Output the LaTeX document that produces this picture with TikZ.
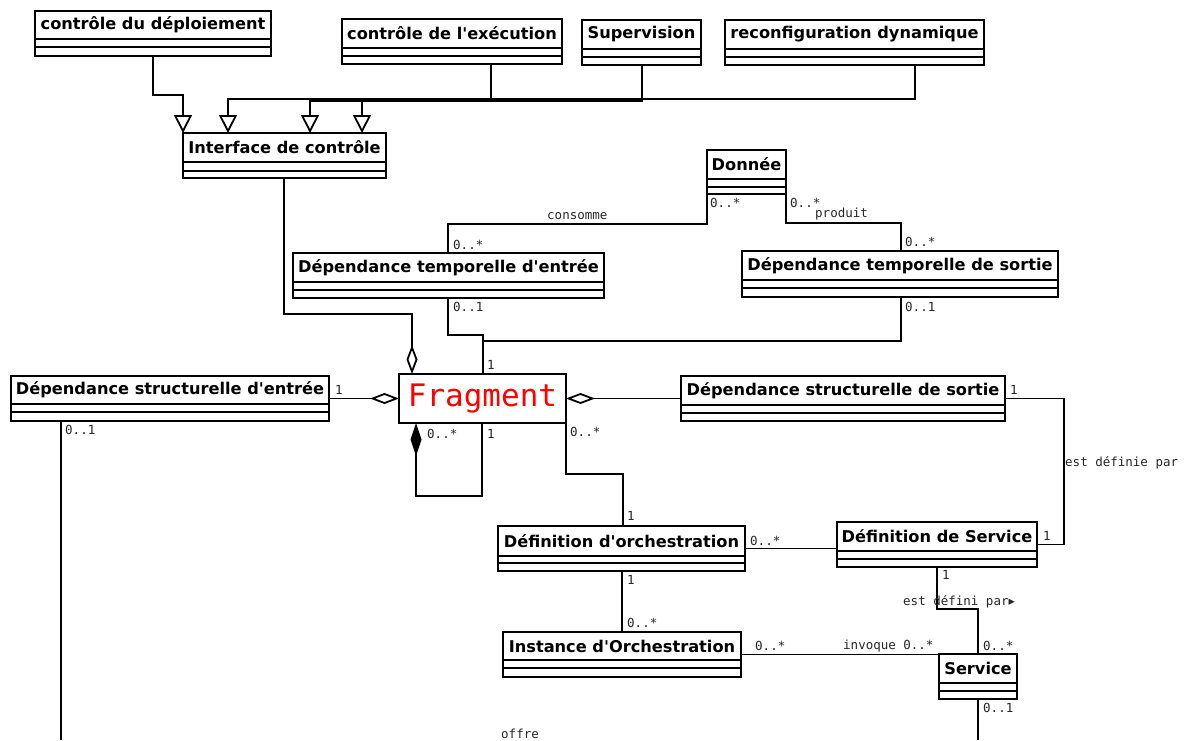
\documentclass[tikz,border=0pt]{standalone}
\usepackage{fontspec}
\usetikzlibrary{arrows.meta}
\newfontfamily\clsf{DejaVu Sans}
\newfontfamily\monof{DejaVu Sans Mono}
\newfontfamily\symf{DejaVu Sans}
\tikzset{
  cls/.style={draw, line width=1.8pt, rectangle, inner sep=0pt, outer sep=0pt, anchor=north west},
  ttl/.style={font=\clsf\bfseries\fontsize{16.2}{18}\selectfont, inner sep=0pt},
  conn/.style={line width=1.8pt},
  mult/.style={font=\monof\fontsize{12.5}{14}\selectfont, anchor=west, inner sep=0pt, text=black!85},
  gen/.style={-{Triangle[open,width=18pt,length=18pt]}},
  aggo/.style={-{Diamond[open,width=11pt,length=29pt]}},
  comp/.style={{Diamond[width=11pt,length=33pt]}-},
}
\newcommand\umlclass[8]{%
  \node[cls, minimum width={(#4-#2)*1pt}, minimum height={(#5-#3)*1pt}] (#1) at (#2,#3) {};
  \node[ttl] (#1-t) at ({(#2+#4)/2},{(#3+#6)/2}) {#8};
  \draw[line width=1.8pt] (#2,#6) -- (#4,#6);
  \draw[line width=1.8pt] (#2,#7) -- (#4,#7);
}
\begin{document}
\begin{tikzpicture}[x=1pt,y=-1pt]
\useasboundingbox (0,0) rectangle (1191,740);
% classes
\umlclass{cdep}{35}{11}{271}{56}{39}{47}{contrôle du déploiement}
\umlclass{cexe}{342}{19}{562}{64}{48}{56}{contrôle de l'exécution}
\umlclass{sup}{582}{20}{701}{65}{49}{57}{Supervision}
\umlclass{reconf}{725}{20}{984}{65}{49}{57}{reconfiguration dynamique}
\umlclass{ictl}{183}{133}{386}{178}{162}{171}{Interface de contrôle}
\umlclass{don}{707}{150}{786}{194}{179}{187}{Donnée}
\umlclass{dte}{293}{253}{604}{298}{282}{290}{Dépendance temporelle d'entrée}
\umlclass{dts}{742}{251}{1058}{297}{280}{288}{Dépendance temporelle de sortie}
\umlclass{dse}{11}{376}{329}{421}{404}{412}{Dépendance structurelle d'entrée}
\umlclass{dss}{681}{376}{1005}{421}{405}{413}{Dépendance structurelle de sortie}
\umlclass{dor}{498}{526}{745}{571}{556}{563}{Définition d'orchestration}
\umlclass{dsv}{837}{522}{1037}{567}{551}{559}{Définition de Service}
\umlclass{ior}{503}{632}{741}{677}{660}{668}{Instance d'Orchestration}
\umlclass{svc}{939}{654}{1017}{699}{683}{691}{Service}
\node[cls, minimum width=167pt, minimum height=49pt] (frag) at (399,374) {};
\node[font=\monof\fontsize{31}{31}\selectfont, text=red, inner sep=0pt] (frag-t) at (frag.center) {Fragment};
\coordinate (dseend) at (61,740);
\coordinate (svcend) at (978,740);
% generalizations
\draw[conn,gen] (cdep.south -| 153,0) |- (183,95) -- (ictl.north west);
\draw[conn,gen] (reconf.south -| 915,0) |- (228,99) -- (ictl.north -| 228,0);
\draw[conn,gen] (sup.south -| 642,0) |- (310,101) -- (ictl.north -| 310,0);
\draw[conn,gen] (cexe.south -| 491,0) |- (362,100) -- (ictl.north -| 362,0);
% aggregations
\draw[conn,aggo] (ictl.south -| 284,0) |- (412,314) -- (frag.north -| 412,0);
\draw[conn,aggo] (dse.east) -- (frag.west);
\draw[conn,aggo] (dss.west) -- (frag.east);
\draw[conn,comp] (frag.south -| 416,0) -- (416,496) -| (frag.south -| 482,0);
% associations
\draw[conn] (don.south west) -- (don.south west |- 0,224) -| (dte.north -| 448,0);
\draw[conn] (don.south east) -- (don.south east |- 0,223) -| (dts.north -| 901,0);
\draw[conn] (dte.south -| 448,0) |- (483,335) -- (frag.north -| 483,0);
\draw[conn] (dts.south -| 901,0) |- (483,341);
\draw[conn] (frag.south east) -- (frag.south east |- 0,474) -| (dor.north -| 623,0);
\draw[conn] (dss.east) -| (1064,544.5) -- (dsv.east);
\draw[conn] (dor.east) -- (dsv.west |- dor.east);
\draw[conn] (dor.south -| 622,0) -- (ior.north -| 622,0);
\draw[conn] (dsv.south -| 937,0) |- (svc.north |- 0,609) -- (svc.north);
\draw[conn] (ior.east) -- (svc.west |- ior.east);
\draw[conn] (dse.south -| dseend) -- (dseend);
\draw[conn] (svc.south) -- (svcend);
% labels
\node[mult] (l1) at (710,203) {0..*};
\node[mult] (l2) at (547,216) {consomme};
\node[mult] (l3) at (453,245) {0..*};
\node[mult] (l4) at (790,203) {0..*};
\node[mult] (l5) at (815,214) {produit};
\node[mult] (l6) at (905,242) {0..*};
\node[mult] (l7) at (453,307) {0..1};
\node[mult] (l8) at (905,307) {0..1};
\node[mult] (l9) at (487,365) {1};
\node[mult] (l10) at (335,390) {1};
\node[mult] (l11) at (65,430) {0..1};
\node[mult] (l12) at (427,434) {0..*};
\node[mult] (l13) at (487,434) {1};
\node[mult] (l14) at (570,432) {0..*};
\node[mult] (l15) at (1010,390) {1};
\node[mult] (l16) at (1065,463) {est définie par};
\node[mult] (l17) at (627,516) {1};
\node[mult] (l18) at (750,541) {0..*};
\node[mult] (l19) at (1043,536) {1};
\node[mult] (l20) at (942,575) {1};
\node[mult] (l21) at (903,602) {est défini par{\symf ▸}};
\node[mult] (l22) at (627,580) {1};
\node[mult] (l23) at (627,623) {0..*};
\node[mult] (l24) at (755,646) {0..*};
\node[mult] (l25) at (843,646) {invoque 0..*};
\node[mult] (l26) at (983,646) {0..*};
\node[mult] (l27) at (983,708) {0..1};
\node[mult] (l28) at (501,734) {offre};
\end{tikzpicture}
\end{document}
